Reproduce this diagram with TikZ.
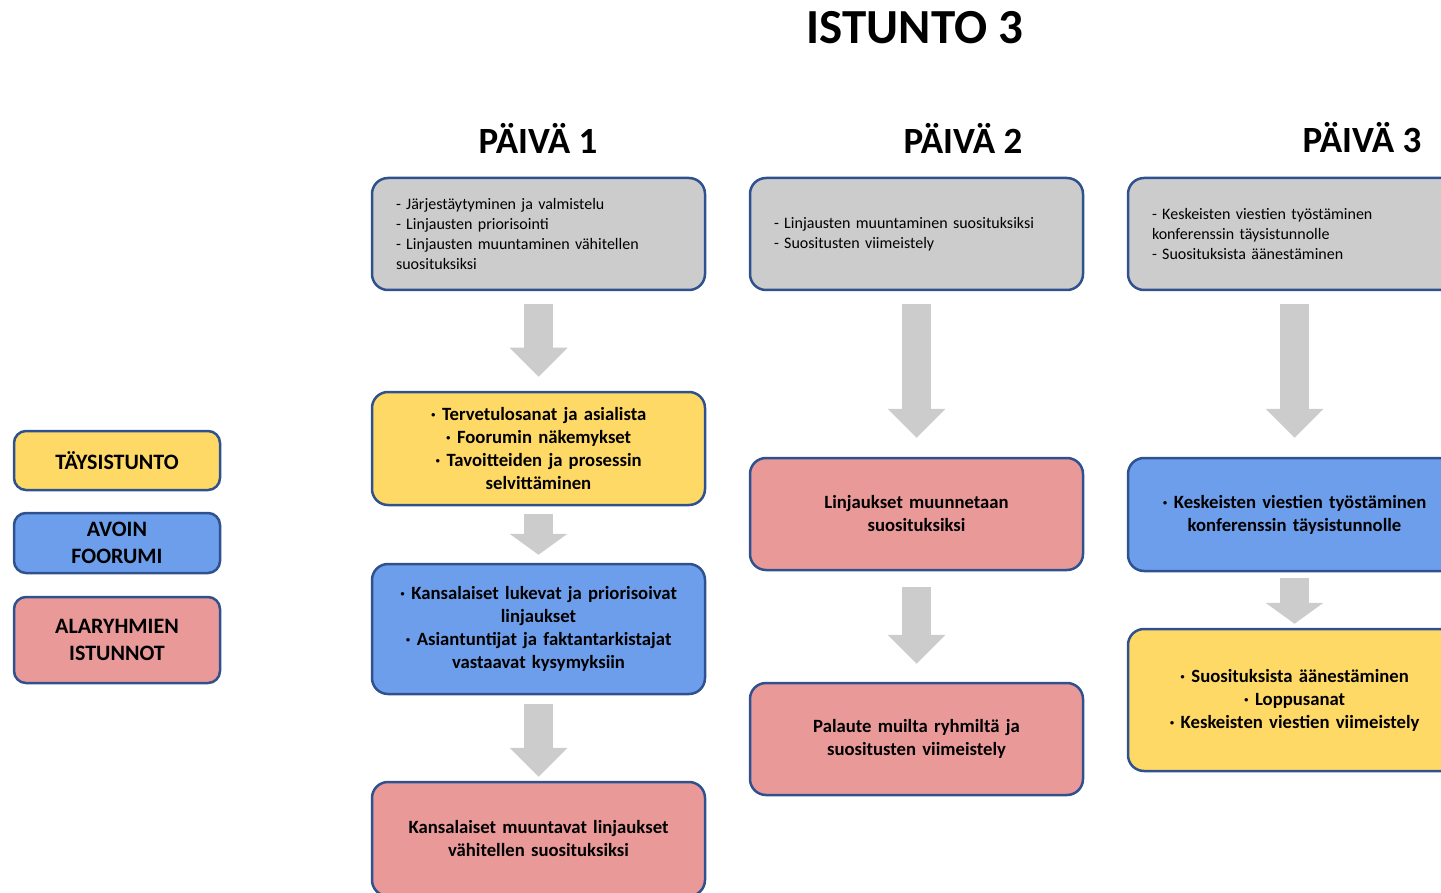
\documentclass[tikz,border=0pt]{standalone}
\usepackage{fontspec}
\setmainfont{Carlito}
\usepackage{xcolor}
\usepackage{tikz}
\usetikzlibrary{positioning}
\usetikzlibrary{arrows.meta}
\definecolor{boxline}{HTML}{2F528F}
\definecolor{boxgrey}{HTML}{CCCCCC}
\definecolor{boxyellow}{HTML}{FFD966}
\definecolor{boxblue}{HTML}{6D9EEB}
\definecolor{boxpink}{HTML}{EA9999}
\definecolor{arrowgrey}{HTML}{CCCCCC}
\tikzstyle{stage} = [draw=boxline, line width=2.5pt, rounded corners=16pt,
inner xsep=24pt, inner ysep=0pt, text width=285pt, minimum width=333pt]
\tikzstyle{bigarrow} = [draw=arrowgrey, line width=29pt,
-{Triangle[width=58pt,length=29pt,line width=0pt]}]
\tikzstyle{smallarrow} = [draw=arrowgrey, line width=29pt,
-{Triangle[width=58pt,length=21pt,line width=0pt]}]

\begin{document}
\begin{tikzpicture}[x=1pt, y=-1pt,
	agenda/.style={stage, fill=boxgrey, align=left,
	font=\fontsize{16}{20}\selectfont},
	plenary/.style={stage, fill=boxyellow, align=center,
	font=\fontsize{18.7}{23}\selectfont\bfseries},
	forum/.style={stage, fill=boxblue, align=center,
	font=\fontsize{18.7}{23}\selectfont\bfseries},
	subgroup/.style={stage, fill=boxpink, align=center,
	font=\fontsize{18.7}{23}\selectfont\bfseries},
	key/.style={draw=boxline, line width=2.5pt, rounded corners=12pt,
	minimum width=206pt, align=center,
	font=\fontsize{22}{27}\selectfont\bfseries}]
	\useasboundingbox (0,0) rectangle (1441,893);
	%% Titles
	\node[font=\fontsize{49}{52}\selectfont\bfseries] (title) at (915,28) {ISTUNTO 3};
	\node[font=\fontsize{37}{40}\selectfont\bfseries] (day1) at (538,138) {PÄIVÄ 1};
	\node[font=\fontsize{37}{40}\selectfont\bfseries] (day2) at (963,138) {PÄIVÄ 2};
	\node[font=\fontsize{37}{40}\selectfont\bfseries] (day3) at (1362,138) {PÄIVÄ 3};
	%% Legend
	\node [key, fill=boxyellow, minimum height=59pt] (keyP) at (117,460.5) {TÄYSISTUNTO};
	\node [key, fill=boxblue, minimum height=60pt] (keyF) at (117,543) {AVOIN\\FOORUMI};
	\node [key, fill=boxpink, minimum height=86pt] (keyS) at (117,640) {ALARYHMIEN\\ISTUNNOT};
	%% Day 1
	\node [agenda, minimum height=112pt] (A1) at (538.5,234)
	{- Järjestäytyminen ja valmistelu\\- Linjausten priorisointi\\- Linjausten muuntaminen vähitellen\\suosituksiksi};
	\node [plenary, minimum height=113pt] (P1) at (538.5,448.5)
	{· Tervetulosanat ja asialista\\· Foorumin näkemykset\\· Tavoitteiden ja prosessin\\selvittäminen};
	\node [forum, minimum height=130pt] (F1) at (538.5,629)
	{· Kansalaiset lukevat ja priorisoivat\\linjaukset\\· Asiantuntijat ja faktantarkistajat\\vastaavat kysymyksiin};
	\node [subgroup, minimum height=114pt] (S1) at (538.5,839)
	{Kansalaiset muuntavat linjaukset\\vähitellen suosituksiksi};
	%% Day 2
	\node [agenda, minimum height=112pt] (A2) at (916.5,234)
	{- Linjausten muuntaminen suosituksiksi\\- Suositusten viimeistely};
	\node [subgroup, minimum height=112pt] (S2a) at (916.5,514)
	{Linjaukset muunnetaan\\suosituksiksi};
	\node [subgroup, minimum height=112pt] (S2b) at (916.5,739)
	{Palaute muilta ryhmiltä ja\\suositusten viimeistely};
	%% Day 3
	\node [agenda, minimum height=112pt] (A3) at (1294.5,234)
	{- Keskeisten viestien työstäminen\\konferenssin täysistunnolle\\- Suosituksista äänestäminen};
	\node [forum, minimum height=113pt] (F3) at (1294.5,514.5)
	{· Keskeisten viestien työstäminen\\konferenssin täysistunnolle};
	\node [plenary, minimum height=142pt] (P3) at (1294.5,700)
	{· Suosituksista äänestäminen\\· Loppusanat\\· Keskeisten viestien viimeistely};
	%% Arrows
	\path [bigarrow, shorten <=13pt, shorten >=14pt] (A1) to (P1);
	\path [smallarrow, shorten <=8pt, shorten >=8pt] (P1) to (F1);
	\path [bigarrow, shorten <=9pt, shorten >=4pt] (F1) to (S1);
	\path [bigarrow, shorten <=13pt, shorten >=19pt] (A2) to (S2a);
	\path [bigarrow, shorten <=16pt, shorten >=18pt] (S2a) to (S2b);
	\path [bigarrow, shorten <=13pt, shorten >=19pt] (A3) to (F3);
	\path [smallarrow, shorten <=6pt, shorten >=4pt] (F3) to (P3);
\end{tikzpicture}
\end{document}
